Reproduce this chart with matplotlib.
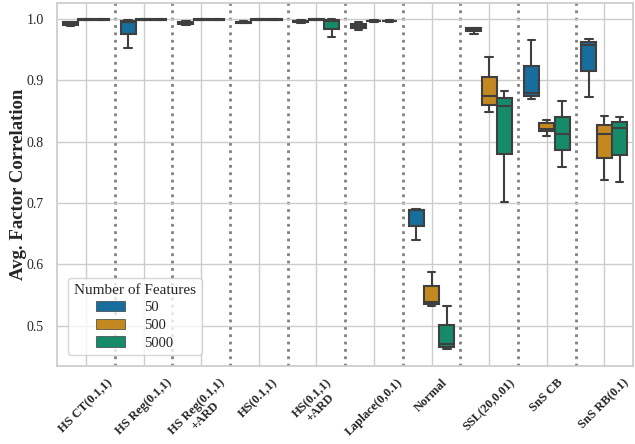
import matplotlib
matplotlib.use('Agg')
import matplotlib.pyplot as plt
import matplotlib.patches as mpatches
import seaborn as sns

sns.set_theme(style='whitegrid')
plt.rcParams['font.family'] = ['Liberation Serif', 'DejaVu Serif']

# methods on the x axis
methods = ['HS CT(0.1,1)', 'HS Reg(0.1,1)', 'HS Reg(0.1,1)\n+ARD', 'HS(0.1,1)',
           'HS(0.1,1)\n+ARD', 'Laplace(0,0.1)', 'Normal', 'SSL(20,0.01)',
           'SnS CB', 'SnS RB(0.1)']
features = ['50', '500', '5000']

# box statistics per feature count (one value per method)
whislo = {
    '50':   [0.989, 0.953, 0.991, 0.993, 0.994, 0.982, 0.640, 0.976, 0.870, 0.873],
    '500':  [0.998, 0.998, 0.998, 0.998, 0.998, 0.996, 0.532, 0.848, 0.810, 0.737],
    '5000': [0.998, 0.998, 0.998, 0.998, 0.971, 0.996, 0.462, 0.702, 0.759, 0.734],
}
q1 = {
    '50':   [0.990, 0.975, 0.992, 0.994, 0.995, 0.985, 0.662, 0.980, 0.875, 0.915],
    '500':  [0.9985, 0.9985, 0.9985, 0.9985, 0.9985, 0.9965, 0.536, 0.860, 0.817, 0.774],
    '5000': [0.9985, 0.9985, 0.9985, 0.9985, 0.983, 0.9965, 0.466, 0.780, 0.786, 0.778],
}
med = {
    '50':   [0.993, 0.996, 0.994, 0.995, 0.996, 0.988, 0.688, 0.982, 0.880, 0.958],
    '500':  [0.999, 0.999, 0.999, 0.999, 0.999, 0.997, 0.539, 0.874, 0.8215, 0.812],
    '5000': [0.999, 0.999, 0.999, 0.999, 0.997, 0.997, 0.470, 0.859, 0.813, 0.823],
}
q3 = {
    '50':   [0.995, 0.997, 0.996, 0.996, 0.997, 0.992, 0.689, 0.985, 0.923, 0.962],
    '500':  [0.9995, 0.9995, 0.9995, 0.9995, 0.9995, 0.9975, 0.5645, 0.906, 0.830, 0.827],
    '5000': [0.9995, 0.9995, 0.9995, 0.9995, 0.999, 0.9975, 0.502, 0.871, 0.840, 0.832],
}
whishi = {
    '50':   [0.996, 0.998, 0.997, 0.997, 0.998, 0.995, 0.691, 0.985, 0.966, 0.967],
    '500':  [0.9998, 0.9998, 0.9998, 0.9998, 0.9998, 0.998, 0.588, 0.938, 0.836, 0.842],
    '5000': [0.9998, 0.9998, 0.9998, 0.9998, 0.9998, 0.998, 0.533, 0.883, 0.867, 0.840],
}

palette = [sns.desaturate(c, 0.75) for c in sns.color_palette('colorblind', 3)]
edge = '#3f3f3f'

fig = plt.figure(figsize=(6.35, 4.44), dpi=100)
ax = fig.add_axes([0.09, 0.175, 0.907, 0.818])

width = 0.8 / 3
for h, feat in enumerate(features):
    stats = []
    for i in range(len(methods)):
        stats.append(dict(whislo=whislo[feat][i], q1=q1[feat][i], med=med[feat][i],
                          q3=q3[feat][i], whishi=whishi[feat][i], fliers=[]))
    pos = [i + (h - 1) * width for i in range(len(methods))]
    ax.bxp(stats, positions=pos, widths=width * 0.98, patch_artist=True,
           showfliers=False, manage_ticks=False,
           boxprops=dict(facecolor=palette[h], edgecolor=edge, linewidth=1.5),
           medianprops=dict(color=edge, linewidth=1.5),
           whiskerprops=dict(color=edge, linewidth=1.5),
           capprops=dict(color=edge, linewidth=1.5))

# dotted separators between methods
for i in range(len(methods) - 1):
    ax.axvline(i + 0.5, color='grey', linestyle=':', linewidth=2, zorder=0.5)

ax.set_xlim(-0.5, len(methods) - 0.5)
ax.set_ylim(0.434, 1.026)
ax.set_xticks(range(len(methods)))
ax.set_xticklabels(methods, rotation=45, ha='center', multialignment='center',
                   fontweight='bold', fontsize=9.0, linespacing=1.05)
ax.tick_params(axis='x', pad=1.5)
ax.set_yticks([0.5, 0.6, 0.7, 0.8, 0.9, 1.0])
ax.tick_params(axis='y', labelsize=10)
ax.set_ylabel('Avg. Factor Correlation', fontweight='bold', fontsize=13.5, labelpad=0)

handles = [mpatches.Patch(facecolor=palette[h], edgecolor=edge, linewidth=0.5, label=f)
           for h, f in enumerate(features)]
ax.legend(handles=handles, title='Number of Features', loc='lower left',
          fontsize=10.5, title_fontsize=11, handlelength=2.0, handletextpad=1.3,
          labelspacing=0.3, borderaxespad=0.75)

plt.savefig('out.png', dpi=100)
